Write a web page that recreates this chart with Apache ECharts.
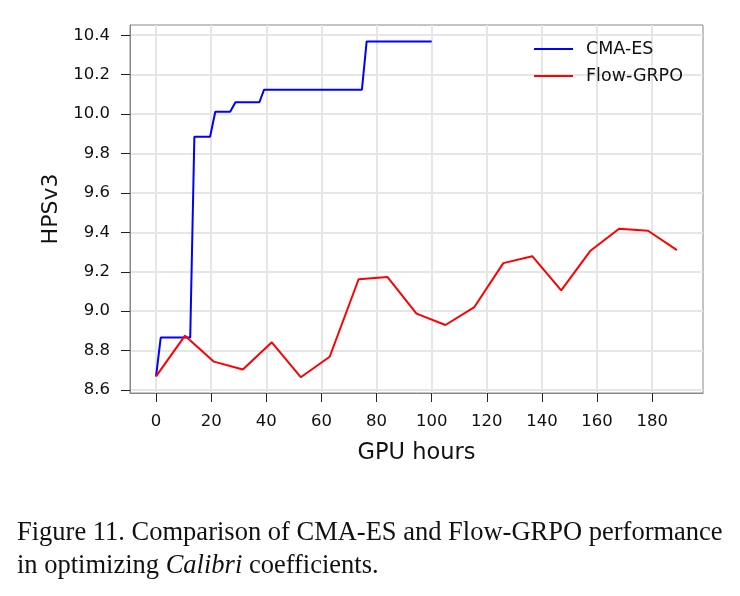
<!DOCTYPE html>
<html>
<head>
<meta charset="utf-8">
<script src="https://cdn.jsdelivr.net/npm/echarts@6/dist/echarts.min.js"></script>
<style>
  html, body { margin: 0; padding: 0; background: #fff; }
  #chart { width: 740px; height: 596px; }
</style>
</head>
<body>
<div id="chart"></div>
<script>
// CMA-ES best-so-far curve (GPU hours, HPSv3)
var cmaHours = [0, 1.7, 12.4, 13.9, 19.6, 21.5, 26.9, 28.8, 37.5, 39.2, 74.7, 76.4, 100]
var cmaScore = [8.669, 8.866, 8.866, 9.885, 9.885, 10.012, 10.012, 10.06, 10.06, 10.124, 10.124, 10.368, 10.368]

// Flow-GRPO evaluations
var flowHours = [0, 10.5, 21, 31.5, 42, 52.5, 63, 73.5, 84, 94.5, 105, 115.5, 126, 136.5, 147, 157.5, 168, 178.5, 189]
var flowScore = [8.669, 8.876, 8.744, 8.704, 8.842, 8.665, 8.769, 9.162, 9.173, 8.988, 8.930, 9.021, 9.244, 9.279, 9.106, 9.305, 9.418, 9.408, 9.310]

var xTicks = [0, 20, 40, 60, 80, 100, 120, 140, 160, 180]
var yTicks = [8.6, 8.8, 9.0, 9.2, 9.4, 9.6, 9.8, 10.0, 10.2, 10.4]

function pairs(xs, ys) {
  return xs.map(function(x, i) { return [x, ys[i]] })
}

var chart = echarts.init(document.getElementById('chart'))
var font = 'DejaVu Sans'

chart.setOption({
  animation: false,
  backgroundColor: '#fff',
  textStyle: { fontFamily: font },
  grid: {
    left: 130,
    right: 37,
    top: 25,
    bottom: 203,
    show: true,
    borderColor: '#888',
    borderWidth: 1
  },
  legend: {
    orient: 'vertical',
    left: 534,
    top: 40,
    padding: 0,
    itemWidth: 39,
    itemHeight: 2,
    itemGap: 9,
    icon: 'rect',
    textStyle: { fontFamily: font, fontSize: 17.5, color: '#111', padding: [0, 0, 0, 8] },
    data: ['CMA-ES', 'Flow-GRPO']
  },
  xAxis: {
    type: 'value',
    min: -9.45,
    max: 198.45,
    name: 'GPU hours',
    nameLocation: 'middle',
    nameGap: 49,
    nameTextStyle: { fontFamily: font, fontSize: 22.5, color: '#111', verticalAlign: 'top' },
    axisLine: { show: true, onZero: false, lineStyle: { color: '#888', width: 1 } },
    axisTick: { show: true, length: 9, customValues: xTicks, lineStyle: { color: '#222', width: 1 } },
    axisLabel: {
      customValues: xTicks,
      margin: 20,
      fontFamily: font,
      fontSize: 16.5,
      color: '#111'
    },
    splitLine: { show: true, lineStyle: { color: '#e6e6e6', width: 2 } }
  },
  yAxis: {
    type: 'value',
    min: 8.585,
    max: 10.452,
    name: 'HPSv3',
    nameLocation: 'middle',
    nameGap: 68,
    nameTextStyle: { fontFamily: font, fontSize: 22, color: '#111' },
    axisLine: { show: true, onZero: false, lineStyle: { color: '#888', width: 1 } },
    axisTick: { show: true, length: 9, customValues: yTicks, lineStyle: { color: '#222', width: 1 } },
    axisLabel: {
      customValues: yTicks,
      margin: 20,
      fontFamily: font,
      fontSize: 16.5,
      color: '#111',
      formatter: function(v) { return v.toFixed(1) }
    },
    splitLine: { show: true, lineStyle: { color: '#e6e6e6', width: 2 } }
  },
  series: [
    {
      name: 'CMA-ES',
      type: 'line',
      data: pairs(cmaHours, cmaScore),
      symbol: 'none',
      color: '#0000ff',
      lineStyle: { width: 2, color: '#0000ff' }
    },
    {
      name: 'Flow-GRPO',
      type: 'line',
      data: pairs(flowHours, flowScore),
      symbol: 'none',
      color: '#ff0000',
      lineStyle: { width: 2, color: '#ff0000' }
    }
  ],
  graphic: [
    {
      type: 'text',
      left: 17,
      top: 520,
      style: {
        text: 'Figure 11. Comparison of CMA-ES and Flow-GRPO performance',
        font: '26.5px "Liberation Serif"',
        fill: '#111'
      }
    },
    {
      type: 'text',
      left: 17,
      top: 553,
      style: {
        text: 'in optimizing {i|Calibri} coefficients.',
        font: '26.5px "Liberation Serif"',
        fill: '#111',
        rich: {
          i: { fontStyle: 'italic', fontFamily: 'Liberation Serif', fontSize: 26.5 }
        }
      }
    }
  ]
})
</script>
</body>
</html>
